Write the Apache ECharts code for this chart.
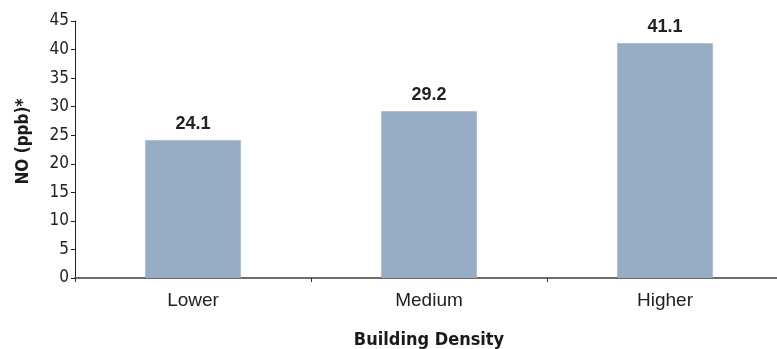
<!DOCTYPE html>
<html>
<head>
<meta charset="utf-8">
<script src="https://cdn.jsdelivr.net/npm/echarts@6/dist/echarts.min.js"></script>
<style>
  html, body { margin: 0; padding: 0; background: #fff; }
  #chart { width: 777px; height: 349px; }
</style>
</head>
<body>
<div id="chart"></div>
<script>
// Building density categories and mean NO concentrations
const categories = ['Lower', 'Medium', 'Higher'];
const noValues = [24.1, 29.2, 41.1];
const yTicks = { min: 0, max: 45, interval: 5 };

const narrow = '"Liberation Sans Narrow", "Arial Narrow", "DejaVu Sans Condensed", sans-serif';

const chart = echarts.init(document.getElementById('chart'));
chart.setOption({
  animation: false,
  backgroundColor: '#ffffff',
  grid: { left: 75, right: -6, top: 21, bottom: 71, outerBoundsMode: 'none', containLabel: false },
  xAxis: {
    type: 'category',
    data: categories,
    name: 'Building Density',
    nameLocation: 'middle',
    nameGap: 53,
    nameTextStyle: { fontFamily: narrow, fontWeight: 'bold', fontSize: 18, color: '#1a1a1a' },
    axisLine: { lineStyle: { color: '#6b6b6b', width: 2 } },
    axisTick: { show: true, alignWithLabel: false, length: 4, lineStyle: { color: '#333', width: 1 } },
    axisLabel: { fontFamily: 'Liberation Sans, Arial, sans-serif', fontSize: 19, color: '#222', margin: 13 }
  },
  yAxis: {
    type: 'value',
    min: yTicks.min,
    max: yTicks.max,
    interval: yTicks.interval,
    name: 'NO (ppb)*',
    nameLocation: 'middle',
    nameGap: 43,
    nameRotate: 90,
    nameTextStyle: { fontFamily: narrow, fontWeight: 'bold', fontSize: 17, color: '#1a1a1a',
      padding: [0, 0, 0, 16] },
    axisLine: { show: true, lineStyle: { color: '#222', width: 1 } },
    axisTick: { show: true, length: 4, lineStyle: { color: '#222' } },
    splitLine: { show: false },
    axisLabel: { fontFamily: narrow, fontSize: 17, color: '#222', margin: 6 }
  },
  series: [{
    type: 'bar',
    data: noValues,
    barWidth: '40.5%',
    itemStyle: { color: '#97adc5' },
    label: {
      show: true,
      position: 'top',
      distance: 7,
      fontFamily: 'Liberation Sans, Arial, sans-serif',
      fontWeight: 'bold',
      fontSize: 18,
      color: '#222',
      formatter: p => p.value.toFixed(1)
    }
  }]
});
</script>
</body>
</html>
